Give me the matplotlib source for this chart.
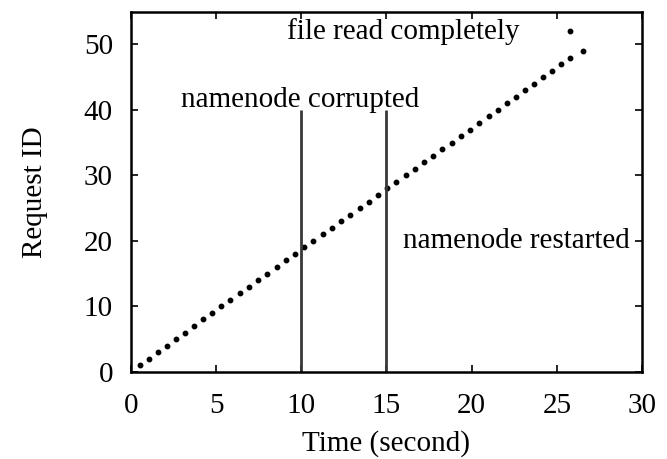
import matplotlib
matplotlib.use("Agg")
import matplotlib.pyplot as plt

# request timeline: time (s) at which each request ID was served
request_id = list(range(1, 50))
time_s = [0.50, 1.04, 1.57, 2.11, 2.65, 3.18, 3.71, 4.24, 4.77, 5.30,
          5.84, 6.38, 6.92, 7.46, 8.00, 8.55, 9.09, 9.63, 10.17, 10.71,
          11.25, 11.79, 12.33, 12.87, 13.42, 13.96, 14.50, 15.04, 15.58, 16.12,
          16.66, 17.20, 17.74, 18.28, 18.83, 19.37, 19.91, 20.45, 21.00,
          21.53, 22.06, 22.59, 23.11, 23.64, 24.17, 24.70, 25.22, 25.75,
          26.54]
done_time = [25.8]
done_id = [52]

# events
event_times = [10, 15]
event_top = 40

plt.rcParams["font.family"] = ["Liberation Serif", "DejaVu Serif"]
plt.rcParams["font.size"] = 21

fig = plt.figure(figsize=(6.67, 4.59), dpi=100)
ax = fig.add_axes([0.1964, 0.19, 0.7661, 0.7845])

ax.plot(time_s, request_id, "o", color="black", markersize=3.2, linestyle="none")
ax.plot(done_time, done_id, "o", color="black", markersize=3.2, linestyle="none")
ax.vlines(event_times, 0, event_top, color="#383838", linewidth=2.0)

ax.text(9.17, 51.9, "file read completely", va="center", ha="left")
ax.text(2.94, 41.5, "namenode corrupted", va="center", ha="left")
ax.text(15.98, 20.0, "namenode restarted", va="center", ha="left")

ax.set_xlim(0, 30)
ax.set_ylim(0, 55)
ax.set_xticks([0, 5, 10, 15, 20, 25, 30])
ax.set_yticks([0, 10, 20, 30, 40, 50])
ax.tick_params(direction="in", top=True, right=True, length=5, width=1.2)
ax.tick_params(axis="x", pad=15)
ax.tick_params(axis="y", pad=13)
for s in ax.spines.values():
    s.set_linewidth(1.8)

ax.set_xlabel("Time (second)", labelpad=8)
ax.set_ylabel("Request ID", labelpad=26)

fig.savefig("out.png", dpi=100)
